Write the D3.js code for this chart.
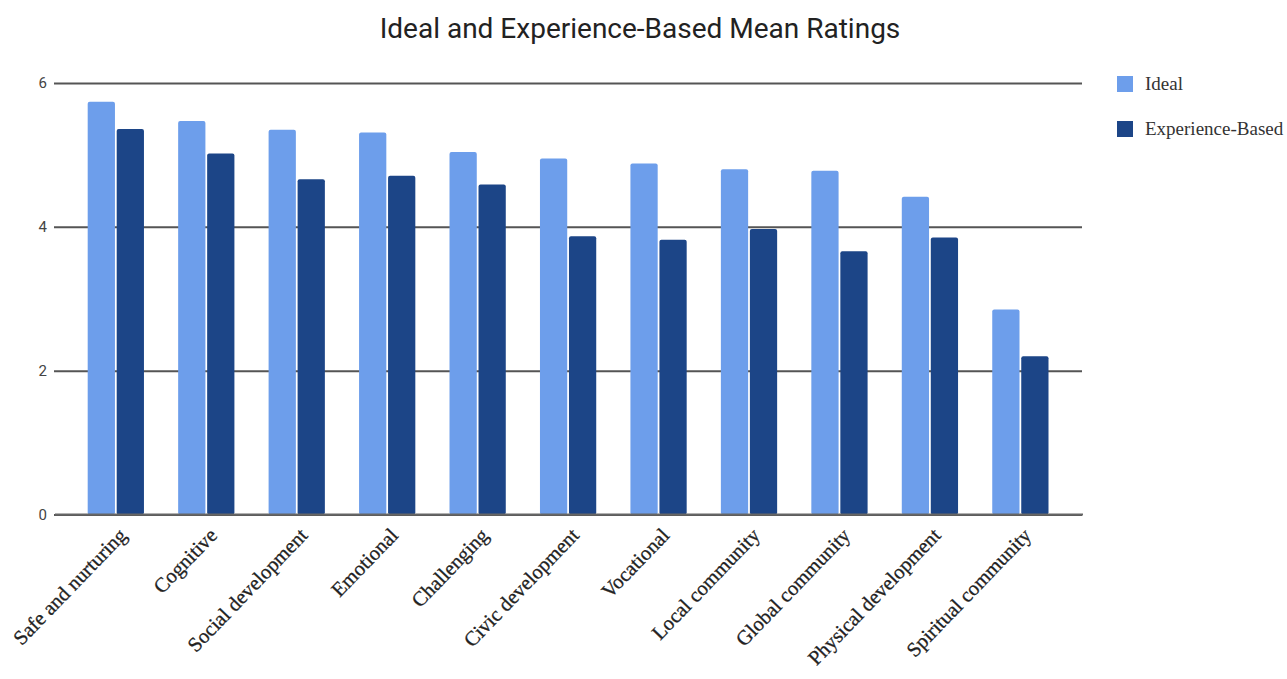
<!DOCTYPE html>
<html>
<head>
<meta charset="utf-8">
<script src="https://cdn.jsdelivr.net/npm/d3@7"></script>
<style>
  html, body { margin: 0; padding: 0; background: #fff; }
  svg { display: block; }
</style>
</head>
<body>
<svg id="chart" width="1287" height="679"></svg>
<script>
const categories = ["Safe and nurturing", "Cognitive", "Social development", "Emotional", "Challenging",
  "Civic development", "Vocational", "Local community", "Global community", "Physical development", "Spiritual community"];
const seriesNames = ["Ideal", "Experience-Based"];
const idealValues = [5.74, 5.47, 5.35, 5.31, 5.04, 4.95, 4.88, 4.80, 4.78, 4.42, 2.85];
const experienceValues = [5.36, 5.02, 4.66, 4.71, 4.59, 3.87, 3.82, 3.97, 3.66, 3.85, 2.20];
const yTicks = [0, 2, 4, 6];
const colors = ["#6d9eeb", "#1c4587"];

const svg = d3.select("#chart");
const x0 = d3.scaleBand().domain(categories).range([70.6, 1065.6]).paddingInner(0.378).paddingOuter(0.189);
const x1 = d3.scaleBand().domain(seriesNames).range([0, x0.bandwidth()]).paddingInner(0.06);
const y = d3.scaleLinear().domain([0, 6]).range([514.5, 83]);
const color = d3.scaleOrdinal().domain(seriesNames).range(colors);

// title
svg.append("text").attr("x", 640).attr("y", 38).attr("text-anchor", "middle")
  .style("font-family", "Roboto, sans-serif").style("font-size", "28px").style("fill", "#222")
  .text("Ideal and Experience-Based Mean Ratings");

// grid + y axis
const yAxis = d3.axisLeft(y).tickValues(yTicks).tickSize(-(1083 - 55)).tickPadding(8).tickFormat(d3.format("d"));
const gy = svg.append("g").attr("transform", "translate(55,0)").call(yAxis);
gy.select(".domain").remove();
gy.selectAll(".tick line").attr("stroke", "#555").attr("stroke-width", 2).attr("transform", "translate(-1,0)");
gy.selectAll(".tick text").style("font-family", "Roboto, sans-serif").style("font-size", "15px").style("fill", "#444");

// bars
const data = categories.map((c, i) => ({ cat: c, vals: [
  { s: seriesNames[0], v: idealValues[i] }, { s: seriesNames[1], v: experienceValues[i] } ] }));
const groups = svg.append("g").selectAll("g").data(data).join("g")
  .attr("transform", d => `translate(${x0(d.cat)},0)`);
groups.selectAll("rect").data(d => d.vals).join("rect")
  .attr("x", d => x1(d.s)).attr("width", x1.bandwidth())
  .attr("y", d => y(d.v)).attr("height", d => y(0) - y(d.v))
  .attr("rx", 2).attr("fill", d => color(d.s));

// zero baseline redraw over bars
svg.append("line").attr("x1", 55).attr("x2", 1083).attr("y1", y(0)).attr("y2", y(0))
  .attr("stroke", "#666").attr("stroke-width", 2);

// x axis labels
const xAxis = d3.axisBottom(x0).tickSize(0).tickPadding(0);
const gx = svg.append("g").attr("transform", `translate(0,${y(0)})`).call(xAxis);
gx.select(".domain").remove();
gx.selectAll(".tick text")
  .attr("text-anchor", "end").attr("dy", null).attr("y", 0)
  .attr("transform", "translate(12,22) rotate(-46)")
  .style("font-family", "'Liberation Serif', serif").style("font-size", "20.5px").style("fill", "#222")
  .style("stroke", "#222").style("stroke-width", "0.3px");

// legend
const legend = svg.append("g");
seriesNames.forEach((s, i) => {
  const ly = 84 + i * 45;
  legend.append("rect").attr("x", 1117).attr("y", ly - 8).attr("width", 16).attr("height", 16).attr("fill", color(s));
  legend.append("text").attr("x", 1145).attr("y", ly + 6)
    .style("font-family", "'Liberation Serif', serif").style("font-size", "19px").style("fill", "#333").text(s);
});
</script>
</body>
</html>
